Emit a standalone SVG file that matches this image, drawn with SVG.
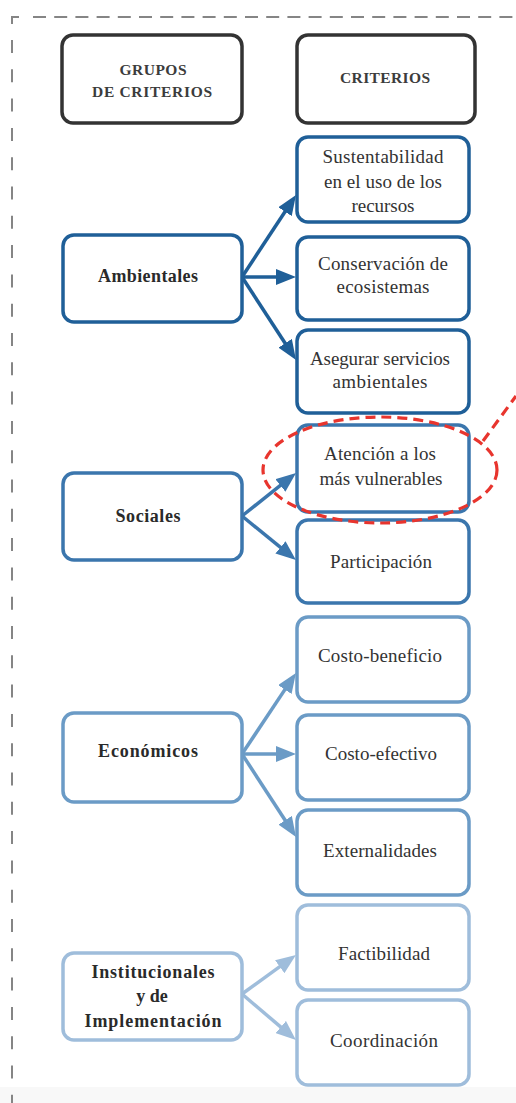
<svg xmlns="http://www.w3.org/2000/svg" width="516" height="1103" viewBox="0 0 516 1103">
<style>
.frame{fill:none;stroke:#858585;stroke-width:2}
.hdr{fill:#fff;stroke:#333;stroke-width:3.5}
.b1{fill:#fff;stroke:#1f5f98;stroke-width:3.5}
.b2{fill:#fff;stroke:#3b76ad;stroke-width:3.5}
.b3{fill:#fff;stroke:#6b9bc6;stroke-width:3.5}
.b4{fill:#fff;stroke:#9fbddb;stroke-width:3.5}
text{font-family:'Liberation Serif','DejaVu Serif','Times New Roman',serif;text-anchor:middle}
.ht{font-size:15.5px;font-weight:bold;fill:#3c3c3c}
.gt{font-size:18px;font-weight:bold;fill:#2a2a2a}
.ct{font-size:19px;fill:#333}
.a1{stroke:#1f5f98;stroke-width:3.5;fill:none;marker-end:url(#m1)}
.a2{stroke:#3b76ad;stroke-width:3.5;fill:none;marker-end:url(#m2)}
.a3{stroke:#6b9bc6;stroke-width:3.5;fill:none;marker-end:url(#m3)}
.a4{stroke:#9fbddb;stroke-width:3.5;fill:none;marker-end:url(#m4)}
.red{fill:none;stroke:#e8352e;stroke-width:3.2;stroke-dasharray:10 6}
</style>
<defs>
<marker id="m1" markerWidth="20" markerHeight="16" refX="6" refY="8" orient="auto" markerUnits="userSpaceOnUse"><path d="M0,0 L20,8 L0,16 z" fill="#1f5f98"/></marker>
<marker id="m2" markerWidth="20" markerHeight="16" refX="6" refY="8" orient="auto" markerUnits="userSpaceOnUse"><path d="M0,0 L20,8 L0,16 z" fill="#3b76ad"/></marker>
<marker id="m3" markerWidth="20" markerHeight="16" refX="6" refY="8" orient="auto" markerUnits="userSpaceOnUse"><path d="M0,0 L20,8 L0,16 z" fill="#6b9bc6"/></marker>
<marker id="m4" markerWidth="20" markerHeight="16" refX="6" refY="8" orient="auto" markerUnits="userSpaceOnUse"><path d="M0,0 L20,8 L0,16 z" fill="#9fbddb"/></marker>
</defs>
<rect x="0" y="0" width="516" height="1103" fill="#fff"/>
<rect x="0" y="1087" width="516" height="16" fill="#f8f8f8"/>
<g id="frame">
<path class="frame" d="M12,24 L12,17 L19,17"/>
<path class="frame" d="M33,17 L516,17" stroke-dasharray="13 8.2"/>
<path class="frame" d="M12,40 L12,1103" stroke-dasharray="13 16.3"/>
</g>
<g id="hdr-grupos">
<rect class="hdr" x="62" y="35" width="180" height="88" rx="11"/>
<text class="ht" x="153" y="75" textLength="67">GRUPOS</text>
<text class="ht" x="152" y="97" textLength="120">DE CRITERIOS</text>
</g>
<g id="hdr-criterios">
<rect class="hdr" x="297" y="35" width="178" height="88" rx="11"/>
<text class="ht" x="385" y="83" textLength="90">CRITERIOS</text>
</g>
<g id="connectors">
<line class="a1" x1="242" y1="277" x2="288.3" y2="206.7"/>
<line class="a1" x1="242" y1="277" x2="282" y2="277"/>
<line class="a1" x1="242" y1="277" x2="288.4" y2="348.3"/>
<line class="a2" x1="242" y1="516" x2="285.1" y2="481.7"/>
<line class="a2" x1="242" y1="516" x2="285.1" y2="551.2"/>
<line class="a3" x1="242" y1="754" x2="288.2" y2="684.6"/>
<line class="a3" x1="242" y1="754" x2="282" y2="754"/>
<line class="a3" x1="242" y1="754" x2="288.4" y2="825.3"/>
<line class="a4" x1="242" y1="994" x2="284.6" y2="963.2"/>
<line class="a4" x1="242" y1="994" x2="285.3" y2="1030.9"/>
</g>
<g id="ambientales">
<rect class="b1" x="63" y="235" width="179" height="87" rx="11"/>
<text class="gt" x="148" y="282" textLength="100">Ambientales</text>
</g>
<g id="sustentabilidad">
<rect class="b1" x="297" y="137" width="172" height="85" rx="11"/>
<text class="ct" x="383" y="163" textLength="121">Sustentabilidad</text>
<text class="ct" x="383" y="188" textLength="118">en el uso de los</text>
<text class="ct" x="383" y="212" textLength="63">recursos</text>
</g>
<g id="conservacion">
<rect class="b1" x="297" y="237" width="172" height="83" rx="11"/>
<text class="ct" x="383" y="270" textLength="130">Conservación de</text>
<text class="ct" x="383" y="293" textLength="93">ecosistemas</text>
</g>
<g id="asegurar">
<rect class="b1" x="297" y="330" width="172" height="83" rx="11"/>
<text class="ct" x="380" y="365" textLength="140">Asegurar servicios</text>
<text class="ct" x="380" y="388" textLength="95">ambientales</text>
</g>
<g id="sociales">
<rect class="b2" x="63" y="473" width="179" height="87" rx="11"/>
<text class="gt" x="148" y="522" textLength="65">Sociales</text>
</g>
<g id="atencion">
<rect class="b2" x="297" y="425" width="172" height="87" rx="11"/>
<text class="ct" x="380" y="460" textLength="112">Atención a los</text>
<text class="ct" x="381" y="485" textLength="123">más vulnerables</text>
</g>
<g id="participacion">
<rect class="b2" x="297" y="520" width="172" height="83" rx="11"/>
<text class="ct" x="381" y="568" textLength="102">Participación</text>
</g>
<g id="economicos">
<rect class="b3" x="63" y="713" width="179" height="89" rx="11"/>
<text class="gt" x="148" y="757" textLength="100">Económicos</text>
</g>
<g id="costo-beneficio">
<rect class="b3" x="297" y="617" width="172" height="85" rx="11"/>
<text class="ct" x="380" y="662" textLength="124">Costo-beneficio</text>
</g>
<g id="costo-efectivo">
<rect class="b3" x="297" y="715" width="172" height="85" rx="11"/>
<text class="ct" x="381" y="760" textLength="112">Costo-efectivo</text>
</g>
<g id="externalidades">
<rect class="b3" x="297" y="810" width="172" height="85" rx="11"/>
<text class="ct" x="380" y="857" textLength="114">Externalidades</text>
</g>
<g id="institucionales">
<rect class="b4" x="63" y="953" width="179" height="87" rx="11"/>
<text class="gt" x="153" y="978" textLength="123">Institucionales</text>
<text class="gt" x="152" y="1002">y de</text>
<text class="gt" x="153" y="1027" textLength="137">Implementación</text>
</g>
<g id="factibilidad">
<rect class="b4" x="297" y="905" width="172" height="85" rx="11"/>
<text class="ct" x="384" y="960" textLength="92">Factibilidad</text>
</g>
<g id="coordinacion">
<rect class="b4" x="297" y="1000" width="172" height="85" rx="11"/>
<text class="ct" x="384" y="1047" textLength="108">Coordinación</text>
</g>
<g id="highlight">
<ellipse class="red" cx="380" cy="470" rx="117" ry="53"/>
<line class="red" x1="483" y1="441" x2="516" y2="396"/>
</g>
</svg>
